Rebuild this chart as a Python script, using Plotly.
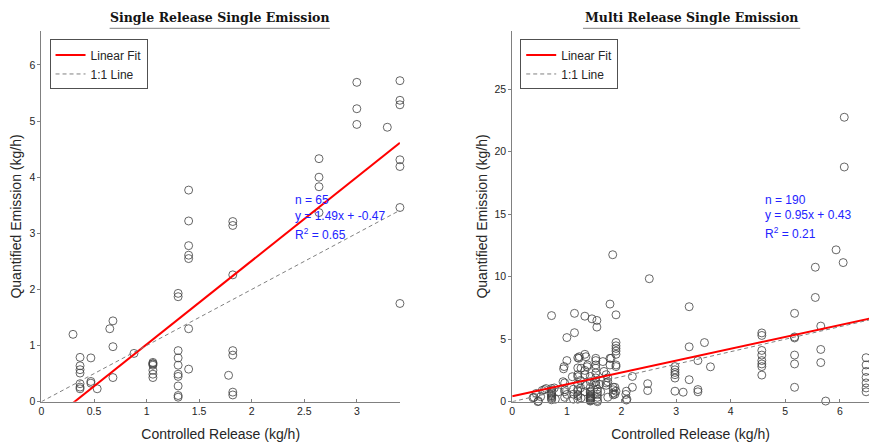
import plotly.graph_objects as go

# ---------------- data ----------------
# Left panel: Single Release Single Emission (controlled release, quantified emission), kg/h
left_x = [0.30,
          0.367, 0.367, 0.367, 0.367, 0.367, 0.367, 0.367,
          0.47, 0.47, 0.47, 0.53,
          0.65, 0.68, 0.68, 0.68, 0.88,
          1.06, 1.06, 1.06, 1.06, 1.06, 1.06, 1.06,
          1.30, 1.30, 1.30, 1.30, 1.30, 1.30, 1.30, 1.30, 1.30, 1.30,
          1.40, 1.40, 1.40, 1.40, 1.40, 1.40, 1.40,
          1.78, 1.82, 1.82, 1.82, 1.82, 1.82, 1.82, 1.82,
          2.64, 2.64, 2.64, 2.64, 2.64,
          3.00, 3.00, 3.00, 3.29,
          3.41, 3.41, 3.41, 3.41, 3.41, 3.41, 3.41]
left_y = [1.20,
          0.79, 0.64, 0.57, 0.51, 0.32, 0.26, 0.23,
          0.78, 0.36, 0.33, 0.23,
          1.30, 1.44, 0.98, 0.43, 0.86,
          0.70, 0.67, 0.65, 0.56, 0.49, 0.43, 0.68,
          1.93, 1.87, 0.91, 0.78, 0.65, 0.49, 0.45, 0.28, 0.11, 0.08,
          3.77, 3.22, 2.78, 2.61, 2.55, 1.30, 0.58,
          0.47, 3.21, 3.14, 2.26, 0.91, 0.83, 0.17, 0.12,
          6.61, 4.33, 4.00, 3.83, 3.37,
          5.69, 5.22, 4.94, 4.89,
          5.72, 5.37, 5.29, 4.31, 4.19, 3.46, 1.75]

# Right panel: Multi Release Single Emission
right_x = [0.38, 0.44, 0.48, 0.47, 0.52, 0.55, 0.59, 0.62, 0.40,
           0.72, 0.72, 0.72, 0.72, 0.72, 0.72, 0.72, 0.72, 0.72, 0.72, 0.72,
           0.77, 0.79, 0.85,
           0.95, 0.94, 0.96, 0.96, 0.96, 1.00, 1.00, 1.00, 0.93, 0.96,
           1.14, 1.14, 1.12, 1.12, 1.12, 1.10,
           1.22, 1.20, 1.20, 1.26, 1.20, 1.20, 1.20, 1.20, 1.20, 1.20, 1.23, 1.25, 1.20, 1.20, 1.25, 1.26,
           1.33, 1.33, 1.38, 1.33, 1.35, 1.37, 1.33, 1.35, 1.33,
           1.43, 1.43, 1.43, 1.43, 1.43, 1.43, 1.43, 1.43, 1.43, 1.43, 1.43, 1.43, 1.43, 1.43, 1.43, 1.43,
           1.46, 1.55, 1.55, 1.53, 1.53, 1.53, 1.53, 1.53, 1.53, 1.53, 1.53, 1.56, 1.56, 1.56, 1.56, 1.56, 1.56, 1.50,
           1.66, 1.68, 1.72, 1.60, 1.62, 1.72, 1.72, 1.75, 1.75, 1.75,
           1.84, 1.79, 1.90, 1.90, 1.90, 1.90, 1.90, 1.90, 1.79, 1.81, 1.79, 1.90, 1.90, 1.85, 1.85, 1.85, 1.85, 1.90, 1.88, 1.88,
           2.08, 2.10, 2.09, 2.09, 2.20, 2.20,
           2.51, 2.48, 2.48,
           2.98, 2.98, 2.98, 2.98, 2.98, 2.98,
           3.13, 3.24, 3.24, 3.24, 3.40, 3.40, 3.40, 3.52, 3.63,
           4.57, 4.57, 4.57, 4.57, 4.57, 4.57, 4.57, 4.57,
           5.17, 5.17, 5.17, 5.17, 5.17, 5.17, 5.17,
           5.55, 5.55, 5.65, 5.65, 5.65, 5.74,
           5.93, 6.06, 6.08, 6.08,
           6.48, 6.48, 6.48, 6.48, 6.48, 6.48, 6.48,
           6.57, 6.57, 6.57, 6.57, 6.57, 6.57]
right_y = [0.31, 0.66, 0.05, 0.00, 0.40, 0.90, 0.97, 1.05, 0.35,
           6.89, 1.05, 0.90, 0.80, 0.70, 0.60, 0.50, 0.45, 0.35, 0.25, 0.15,
           1.10, 0.20, 0.80,
           2.81, 2.63, 1.50, 0.97, 0.80, 0.58, 5.13, 3.29, 1.60, 0.35,
           7.07, 5.52, 1.00, 0.60, 0.20, 2.00,
           3.47, 3.52, 2.70, 2.68, 2.16, 2.00, 1.40, 0.95, 0.58, 0.20, 3.60, 1.70, 0.85, 0.45, 1.10, 0.30,
           6.84, 3.79, 2.94, 2.16, 3.60, 2.80, 2.50, 1.30, 0.80,
           2.02, 1.60, 1.15, 0.84, 0.75, 0.60, 0.50, 0.40, 0.35, 0.25, 0.20, 0.15, 0.10, 0.05, 0.30, 0.45,
           6.63, 6.50, 5.97, 3.47, 3.29, 2.94, 2.68, 2.30, 1.90, 1.60, 1.35, 1.00, 0.60, 0.35, 0.00, 0.80, 0.10, 1.50,
           3.21, 2.42, 2.16, 1.40, 0.80, 1.50, 1.31, 0.36, 1.90, 1.60,
           11.76, 7.81, 6.95, 4.74, 4.47, 4.26, 4.05, 3.79, 3.47, 3.47, 2.94, 2.81, 2.94, 1.15, 0.95, 0.70, 0.55, 0.84, 1.15, 0.60,
           0.58, 0.20, 0.84, 0.13, 2.02, 1.15,
           9.84, 1.44, 0.89,
           2.81, 2.55, 2.34, 2.16, 1.89, 0.84,
           0.76, 7.60, 4.39, 1.76, 3.29, 0.97, 0.79, 4.73, 2.79,
           5.50, 5.30, 4.10, 3.73, 3.29, 3.02, 2.81, 2.13,
           29.65, 7.07, 5.18, 5.10, 3.73, 3.02, 1.15,
           10.76, 8.34, 6.05, 4.18, 3.13, 0.05,
           12.15, 11.13, 22.76, 18.78,
           3.52, 2.94, 2.42, 1.94, 1.50, 1.10, 0.79,
           8.00, 5.63, 3.20, 2.50, 1.00, 0.50]

left_fit = (1.49, -0.47)
right_fit = (0.95, 0.43)
left_stats = ["n = 65", "y = 1.49x + -0.47", "R<sup>2</sup> = 0.65"]
right_stats = ["n = 190", "y = 0.95x + 0.43", "R<sup>2</sup> = 0.21"]
titles = ["Single Release Single Emission", "Multi Release Single Emission"]
x_label = "Controlled Release (kg/h)"
y_label = "Quantified Emission (kg/h)"

# ---------------- figure ----------------
W, H = 869, 443
def px(x):
    return x / W
def py(y):
    return (H - y) / H

MARK = "rgb(64,64,64)"
AX = "rgb(128,128,128)"
TXT = "rgb(38,38,38)"
BLUE = "rgb(35,35,255)"
SANS = "Liberation Sans, Arial"

fig = go.Figure()

panels = [
    (left_x, left_y, left_fit, "x", "y", "legend"),
    (right_x, right_y, right_fit, "x2", "y2", "legend2"),
]
for xs, ys, (m, b), xa, ya, lg in panels:
    xmax = max(xs)
    fig.add_trace(go.Scatter(x=xs, y=ys, mode="markers", xaxis=xa, yaxis=ya,
                             marker=dict(symbol="circle-open", size=8, color=MARK,
                                         line=dict(width=0.8, color=MARK)),
                             showlegend=False, cliponaxis=False, hoverinfo="x+y"))
    fig.add_trace(go.Scatter(x=[0, xmax], y=[b, m * xmax + b], mode="lines",
                             xaxis=xa, yaxis=ya, name="Linear Fit", legend=lg,
                             line=dict(color="rgb(255,0,0)", width=2)))
    fig.add_trace(go.Scatter(x=[0, xmax], y=[0, xmax], mode="lines",
                             xaxis=xa, yaxis=ya, name="1:1 Line", legend=lg,
                             line=dict(color=AX, width=1, dash="4px,3px")))

ydom = [py(407.2), py(31.7)]

def xaxis_style():
    return dict(showline=True, linecolor=AX, linewidth=1, ticks="inside", ticklen=3,
                tickcolor=AX, showgrid=False, zeroline=False,
                tickfont=dict(family=SANS, size=10.5, color=TXT),
                title=dict(text=x_label, font=dict(family=SANS, size=14, color=TXT), standoff=12))

def yaxis_style(standoff):
    return dict(showline=True, linecolor=AX, linewidth=1, ticks="outside", ticklen=3,
                tickcolor=AX, showgrid=False, zeroline=False,
                tickfont=dict(family=SANS, size=10.5, color=TXT),
                title=dict(text=y_label, font=dict(family=SANS, size=14, color=TXT), standoff=standoff))

fig.update_layout(
    width=W, height=H, margin=dict(l=0, r=0, t=0, b=0),
    paper_bgcolor="white", plot_bgcolor="white",
    xaxis=dict(domain=[px(38.6), px(398.3)], range=[0, 3.41], anchor="y",
               tickvals=[0, 0.5, 1, 1.5, 2, 2.5, 3], ticktext=["0", "0.5", "1", "1.5", "2", "2.5", "3"],
               **xaxis_style()),
    yaxis=dict(domain=ydom, range=[0, 6.60], anchor="x", tickvals=[0, 1, 2, 3, 4, 5, 6], **yaxis_style(4)),
    xaxis2=dict(domain=[px(511), 1.0], range=[0, 6.533], anchor="y2",
                tickvals=[0, 1, 2, 3, 4, 5, 6], **xaxis_style()),
    yaxis2=dict(domain=ydom, range=[0, 29.64], anchor="x2", tickvals=[0, 5, 10, 15, 20, 25], **yaxis_style(3)),
    legend=dict(x=px(46.7), y=py(40), xanchor="left", yanchor="top", bgcolor="white",
                bordercolor="rgb(80,80,80)", borderwidth=1,
                font=dict(family=SANS, size=12, color=TXT),
                itemwidth=30, tracegroupgap=0),
    legend2=dict(x=px(519), y=py(40), xanchor="left", yanchor="top", bgcolor="white",
                 bordercolor="rgb(80,80,80)", borderwidth=1,
                 font=dict(family=SANS, size=12, color=TXT),
                 itemwidth=30, tracegroupgap=0),
    showlegend=True,
)

# stats annotations
for stats, xa, ya, x0, ys in [
    (left_stats, "x", "y", 2.39, [3.60, 3.30, 2.99]),
    (right_stats, "x2", "y2", 4.60, [16.1, 14.94, 13.46]),
]:
    for s, yy in zip(stats, ys):
        fig.add_annotation(x=x0, y=yy, xref=xa, yref=ya, text=s, showarrow=False,
                           xanchor="left", yanchor="middle",
                           font=dict(family=SANS, size=12, color=BLUE))

# titles with underline
for t, cx, x0, x1 in [(titles[0], 217.5, 107, 328), (titles[1], 691, 582, 800)]:
    fig.add_annotation(x=px(cx), y=py(18), xref="paper", yref="paper", text="<b>" + t + "</b>",
                       showarrow=False, xanchor="center", yanchor="middle",
                       font=dict(family="DejaVu Serif", size=12.5, color="rgb(20,20,20)"))
    fig.add_shape(type="line", xref="paper", yref="paper", x0=px(x0), x1=px(x1),
                  y0=py(28.7), y1=py(28.7), line=dict(color=AX, width=1))

fig.write_html("out.html")
